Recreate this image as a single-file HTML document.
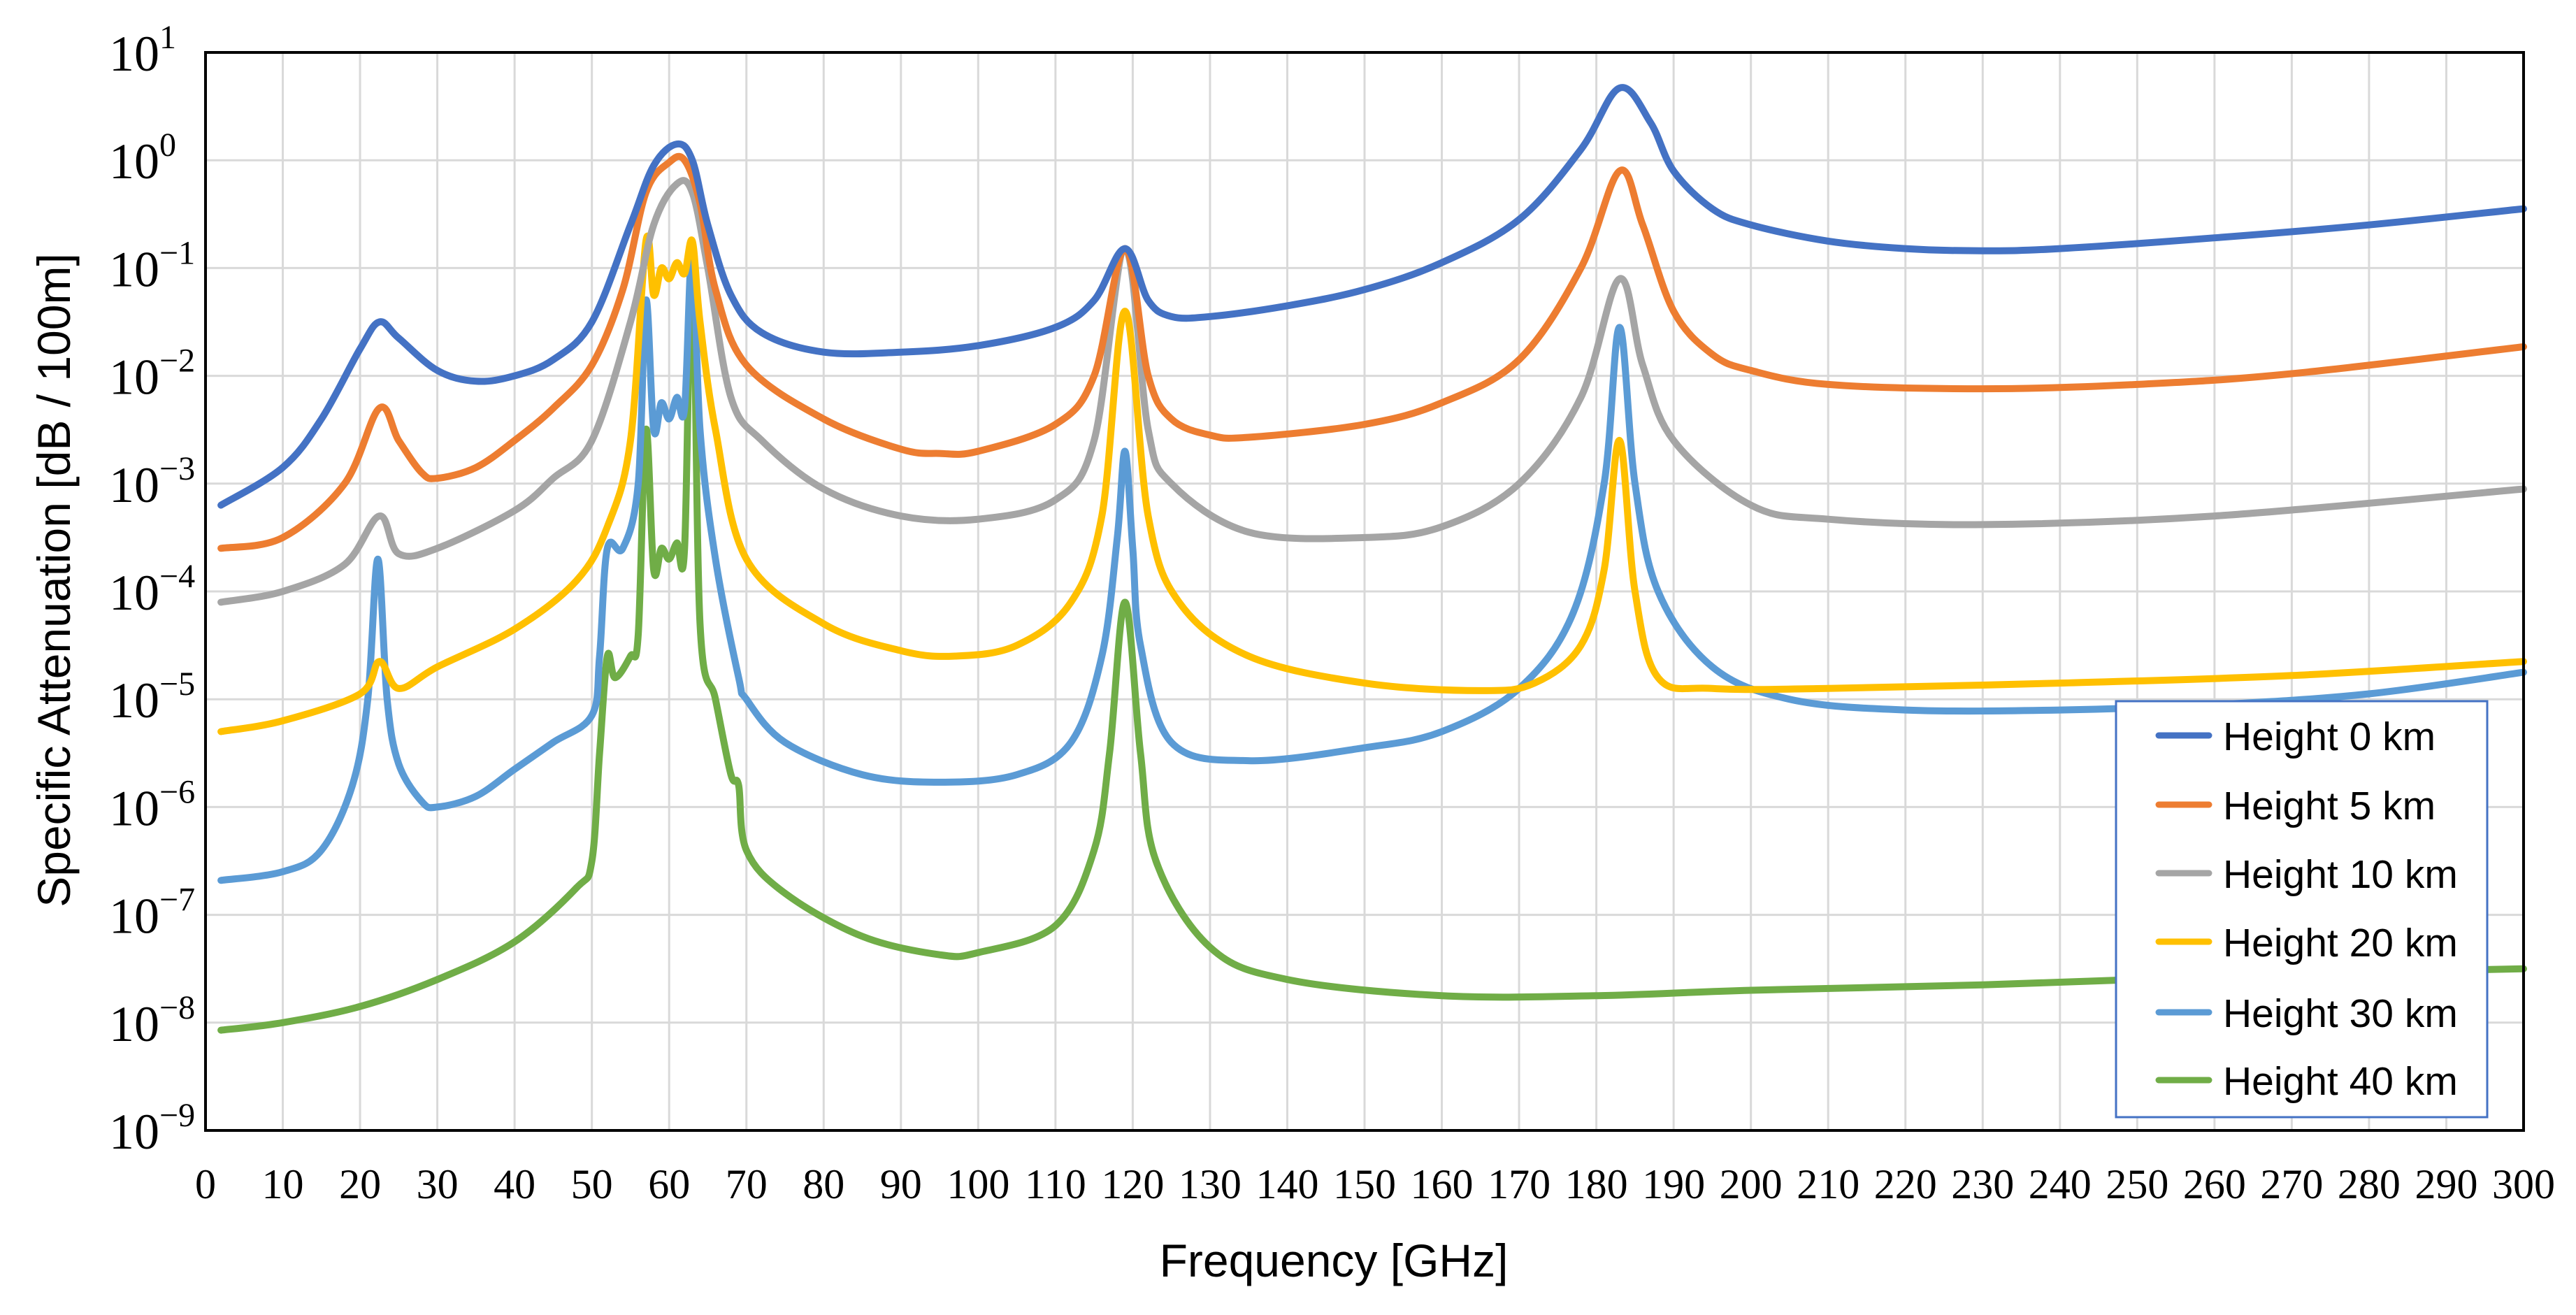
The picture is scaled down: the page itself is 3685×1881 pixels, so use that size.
<!DOCTYPE html>
<html><head><meta charset="utf-8"><style>
html,body{margin:0;padding:0;background:#fff;}
svg{display:block;}
</style></head><body>
<svg id="chart" width="3685" height="1881" viewBox="0 0 3685 1881" xmlns="http://www.w3.org/2000/svg">
<rect width="3685" height="1881" fill="#fff"/>
<g id="grid"></g>
<g id="series"></g>
<g id="axes"></g>
<text x="1908" y="1826" font-family="'Liberation Sans', sans-serif" font-size="66" text-anchor="middle" fill="#000">Frequency [GHz]</text>
<text transform="translate(100,830) rotate(-90)" font-family="'Liberation Sans', sans-serif" font-size="66" text-anchor="middle" fill="#000">Specific Attenuation [dB / 100m]</text>
<g id="legend"></g>
</svg>
<script>
const xTicks = [0,10,20,30,40,50,60,70,80,90,100,110,120,130,140,150,160,170,180,190,200,210,220,230,240,250,260,270,280,290,300];
const yExps = [1,0,-1,-2,-3,-4,-5,-6,-7,-8,-9];
const seriesNames = ["Height 0 km","Height 5 km","Height 10 km","Height 20 km","Height 30 km","Height 40 km"];
const seriesColors = ["#4472c4","#ed7d31","#a5a5a5","#ffc000","#5b9bd5","#70ad47"];
// log10 of attenuation
const h0f = [2,10,15,20,22.5,25,30,35,40,45,50,55,58,61,63,65,68,72,80,90,100,110,115,119,122,125,130,140,150,160,170,178,183,187,190,195,200,210,220,230,240,260,280,300];
const h0v = [-3.2,-2.85,-2.4,-1.75,-1.5,-1.65,-1.95,-2.05,-2.0,-1.85,-1.5,-0.6,-0.05,0.15,0.0,-0.6,-1.25,-1.6,-1.78,-1.78,-1.72,-1.55,-1.3,-0.82,-1.3,-1.45,-1.45,-1.35,-1.2,-0.95,-0.55,0.1,0.67,0.35,-0.1,-0.45,-0.6,-0.75,-0.82,-0.84,-0.82,-0.72,-0.6,-0.45];
const h5f = [2,10,18,22.5,25,28,30,35,40,45,50,54,57,60,62,64,66,70,80,90,95,100,110,115,119,122,125,130,135,150,160,170,178,183,186,190,195,200,210,230,250,270,300];
const h5v = [-3.6,-3.5,-3.0,-2.3,-2.6,-2.9,-2.95,-2.85,-2.6,-2.3,-1.9,-1.2,-0.3,-0.02,0.0,-0.4,-1.2,-1.9,-2.4,-2.68,-2.72,-2.7,-2.45,-2.0,-0.82,-2.0,-2.4,-2.55,-2.57,-2.45,-2.25,-1.85,-1.0,-0.1,-0.6,-1.4,-1.8,-1.95,-2.08,-2.12,-2.08,-1.98,-1.73];
const h10f = [2,10,18,22.5,25,30,40,45,50,55,58,61,63,65,68,72,80,90,100,110,115,119,122,125,135,150,160,170,178,183,186,190,200,210,230,260,300];
const h10v = [-4.1,-4.0,-3.75,-3.3,-3.65,-3.6,-3.25,-2.95,-2.6,-1.5,-0.6,-0.22,-0.3,-1.0,-2.2,-2.6,-3.05,-3.3,-3.33,-3.15,-2.6,-0.82,-2.5,-3.0,-3.45,-3.5,-3.4,-3.0,-2.2,-1.1,-1.9,-2.6,-3.2,-3.33,-3.38,-3.3,-3.05];
const h20f = [2,10,20,22.5,25,30,40,48,52,55,57,58,59,60,61,62,63,64,66,70,80,90,97,105,112,116,119,122,126,135,150,165,172,178,181,183,185,188,195,210,240,270,300];
const h20v = [-5.3,-5.2,-4.95,-4.65,-4.9,-4.7,-4.35,-3.9,-3.4,-2.6,-0.75,-1.25,-1.0,-1.1,-0.95,-1.05,-0.75,-1.5,-2.5,-3.7,-4.3,-4.55,-4.6,-4.5,-4.1,-3.3,-1.4,-3.3,-4.1,-4.6,-4.85,-4.92,-4.85,-4.5,-3.8,-2.6,-4.0,-4.8,-4.9,-4.9,-4.85,-4.78,-4.65];
const h30f = [2,10,15,19,21,22.3,23.5,25,28,30,35,40,45,50,51,52,54,56,57,58,59,60,61,62,63,64,66,69,70,75,85,95,105,112,116,118,119,120,121,125,135,150,160,170,177,181,183,185,188,195,205,220,240,260,280,300];
const h30v = [-6.68,-6.6,-6.4,-5.8,-5.0,-3.7,-5.0,-5.6,-5.95,-6.0,-5.9,-5.65,-5.4,-5.15,-4.6,-3.6,-3.6,-3.0,-1.3,-2.5,-2.25,-2.4,-2.2,-2.3,-0.8,-2.5,-3.7,-4.8,-5.0,-5.4,-5.7,-5.77,-5.7,-5.4,-4.6,-3.5,-2.7,-3.6,-4.5,-5.4,-5.57,-5.45,-5.3,-4.9,-4.2,-3.0,-1.55,-3.0,-4.0,-4.7,-5.0,-5.1,-5.1,-5.05,-4.95,-4.75];
const h40f = [2,10,20,30,40,48,50,51,52,53,55,56,57,58,59,60,61,62,63,64,66,68,69,70,75,85,95,100,110,115,117,119,121,123,130,140,160,180,200,230,270,300];
const h40v = [-8.07,-8.0,-7.85,-7.6,-7.25,-6.75,-6.5,-5.5,-4.6,-4.8,-4.6,-4.4,-2.5,-3.8,-3.6,-3.7,-3.55,-3.6,-0.8,-4.3,-5.0,-5.7,-5.8,-6.4,-6.8,-7.2,-7.37,-7.35,-7.1,-6.4,-5.5,-4.1,-5.5,-6.5,-7.3,-7.6,-7.75,-7.75,-7.7,-7.65,-7.55,-7.5];

const seriesF = [h0f,h5f,h10f,h20f,h30f,h40f];
const seriesV = [h0v,h5v,h10v,h20v,h30v,h40v];

const L=294,R=3610,T=75,B=1617;
const X = f => L + (f-0)/(300-0)*(R-L);
const Y = lg => B - (lg+9)/10*(B-T);
const NS="http://www.w3.org/2000/svg";
function mk(tag, attrs, parent){const e=document.createElementNS(NS,tag);for(const k in attrs)e.setAttribute(k,attrs[k]);parent.appendChild(e);return e;}

const grid=document.getElementById('grid'), axes=document.getElementById('axes'), sg=document.getElementById('series'), lg=document.getElementById('legend');
xTicks.forEach(t=>{
  const l=mk('line',{x1:X(t),x2:X(t),y1:T,y2:B,stroke:'#d9d9d9','stroke-width':3},grid);
  
  
  const tx=mk('text',{x:X(t),y:1714,'font-family':"'Liberation Serif', serif",'font-size':60,'text-anchor':'middle',fill:'#000'},axes);
  tx.textContent=t;
  
  
});
yExps.forEach(e=>{
  const l=mk('line',{x1:L,x2:R,y1:Y(e),y2:Y(e),stroke:'#d9d9d9','stroke-width':3},grid);
  
  
  const tx=mk('text',{x:156,y:Y(e)+26,'font-family':"'Liberation Serif', serif",'font-size':72,fill:'#000'},axes);
  
  
  tx.appendChild(document.createTextNode('10'));
  const sup=document.createElementNS(NS,'tspan');
  sup.setAttribute('dy','-32');sup.setAttribute('font-size','48');
  sup.textContent = e<0 ? '\u2212'+(-e) : String(e);
  tx.appendChild(sup);
});
const ax=mk('path',{d:`M${L},${T} V${B} H${R} V${T} Z`,fill:'none',stroke:'#000','stroke-width':4},axes);



function smoothPath(pts){
  let d=`M${pts[0][0].toFixed(1)},${pts[0][1].toFixed(1)}`;
  for(let i=0;i<pts.length-1;i++){
    const p0=pts[Math.max(0,i-1)],p1=pts[i],p2=pts[i+1],p3=pts[Math.min(pts.length-1,i+2)];
    const k=0.17;
    const c1=[p1[0]+(p2[0]-p0[0])*k,p1[1]+(p2[1]-p0[1])*k];
    const c2=[p2[0]-(p3[0]-p1[0])*k,p2[1]-(p3[1]-p1[1])*k];
    d+=` C${c1[0].toFixed(1)},${c1[1].toFixed(1)} ${c2[0].toFixed(1)},${c2[1].toFixed(1)} ${p2[0].toFixed(1)},${p2[1].toFixed(1)}`;
  }
  return d;
}
for(let s=seriesF.length-1;s>=0;s--){
  const pts=seriesF[s].map((f,i)=>[X(f),Y(seriesV[s][i])]);
  const p=mk('path',{d:smoothPath(pts),fill:'none',stroke:seriesColors[s],'stroke-width':10,'stroke-linejoin':'round','stroke-linecap':'round'},sg);
  
  
}
const box=mk('rect',{x:3027,y:1003,width:531,height:595,fill:'#fff',stroke:'#4472c4','stroke-width':3},lg);


const ly=[1052,1151,1249,1347,1448,1545];
seriesNames.forEach((n,i)=>{
  const l=mk('line',{x1:3088,x2:3160,y1:ly[i],y2:ly[i],stroke:seriesColors[i],'stroke-width':9,'stroke-linecap':'round'},lg);
  
  
  const t=mk('text',{x:3180,y:ly[i]+21,'font-family':"'Liberation Sans', sans-serif",'font-size':57,fill:'#000'},lg);
  t.textContent=n;
  
  
});
</script>
</body></html>
